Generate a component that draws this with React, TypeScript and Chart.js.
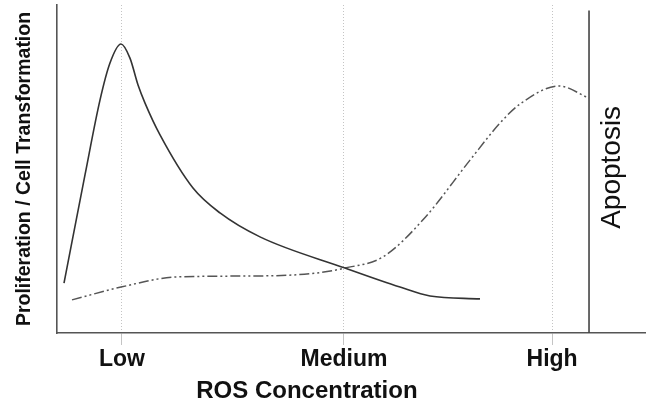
import { useEffect, useRef } from 'react';
import Chart from 'chart.js/auto';

// x axis: ROS concentration (0..100 arbitrary units), y axis: response (0..100)
const tickValues = [11.05, 48.8, 84.2];
const tickLabels = ['Low', 'Medium', 'High'];

const proliferationX = [1.19, 4.76, 7.31, 9.01, 10.88, 12.41, 13.78, 14.97, 17.52, 23.13, 27.72, 34.52, 48.98, 58.33, 63.44, 71.94];
const proliferationY = [15.2, 48.2, 71.0, 82.3, 88.1, 83.8, 75.6, 70.1, 60.4, 44.2, 36.6, 29.3, 19.8, 14.0, 11.3, 10.4];

const apoptosisCurveX = [2.55, 10.88, 20.41, 34.52, 44.22, 48.98, 55.44, 62.24, 70.24, 75.34, 78.74, 85.37, 90.48];
const apoptosisCurveY = [10.1, 14.0, 17.1, 17.4, 18.3, 19.8, 23.2, 34.5, 52.7, 64.0, 69.8, 75.3, 71.6];

const apoptosisThresholdX = 90.48;
const apoptosisThresholdY = [0, 98.3];

const xTitle = 'ROS Concentration';
const yTitle = 'Proliferation / Cell Transformation';
const thresholdLabel = 'Apoptosis';

const FONT = '"Liberation Sans", Arial, Helvetica, sans-serif';

const textPlugin = {
  id: 'extraTexts',
  afterDraw(chart: any) {
    const { ctx, chartArea, scales } = chart;
    ctx.save();
    ctx.fillStyle = '#111';
    ctx.textAlign = 'center';
    ctx.textBaseline = 'middle';
    ctx.font = `bold 24px ${FONT}`;
    const tx = chartArea.left + (chartArea.right - chartArea.left) * 0.425;
    ctx.fillText(xTitle, tx, chartArea.bottom + 58);
    const ax = scales.x.getPixelForValue(apoptosisThresholdX) + 23;
    const ay = chartArea.top + (chartArea.bottom - chartArea.top) * 0.495;
    ctx.translate(ax, ay);
    ctx.rotate(-Math.PI / 2);
    ctx.font = `28px ${FONT}`;
    ctx.fillText(thresholdLabel, 0, 0);
    ctx.restore();
  },
};

export default function App() {
  const ref = useRef<HTMLCanvasElement | null>(null);
  useEffect(() => {
    document.body.style.margin = '0';
    const canvas = ref.current!;
    const chart = new Chart(canvas, {
      type: 'line',
      data: {
        datasets: [
          {
            data: proliferationX.map((x, i) => ({ x, y: proliferationY[i] })),
            borderColor: '#333',
            borderWidth: 1.6,
            pointRadius: 0,
            cubicInterpolationMode: 'monotone',
            fill: false,
          },
          {
            data: apoptosisCurveX.map((x, i) => ({ x, y: apoptosisCurveY[i] })),
            borderColor: '#555',
            borderWidth: 1.5,
            borderDash: [10, 3, 2, 3, 2, 3],
            pointRadius: 0,
            cubicInterpolationMode: 'monotone',
            fill: false,
          },
          {
            data: apoptosisThresholdY.map((y) => ({ x: apoptosisThresholdX, y })),
            borderColor: '#444',
            borderWidth: 1.6,
            pointRadius: 0,
            tension: 0,
            fill: false,
          },
        ],
      },
      options: {
        animation: false,
        responsive: false,
        maintainAspectRatio: false,
        layout: { padding: { left: 0, top: 5, right: 4, bottom: 0 } },
        plugins: { legend: { display: false }, tooltip: { enabled: false } },
        scales: {
          x: {
            type: 'linear',
            min: 0,
            max: 100,
            afterBuildTicks: (scale: any) => {
              scale.ticks = tickValues.map((v) => ({ value: v }));
            },
            afterFit: (scale: any) => {
              scale.height = 73;
            },
            ticks: {
              autoSkip: false,
              maxRotation: 0,
              padding: 1,
              color: '#111',
              font: { family: FONT, size: 23, weight: 'bold' },
              callback: (_v: any, i: number) => tickLabels[i],
            },
            grid: { color: '#c4c4c4', lineWidth: 1, tickLength: 12, drawTicks: true },
            border: { display: true, color: '#555', width: 1.6, dash: [1, 2] },
          },
          y: {
            type: 'linear',
            min: 0,
            max: 100,
            afterFit: (scale: any) => {
              scale.width = 57;
            },
            ticks: { display: false },
            grid: { display: false },
            border: { display: true, color: '#555', width: 1.6 },
            title: {
              display: true,
              text: yTitle,
              color: '#111',
              font: { family: FONT, size: 19.5, weight: 'bold' },
              padding: { top: 13, bottom: 0 },
            },
          },
        },
      },
      plugins: [textPlugin],
    } as any);
    return () => chart.destroy();
  }, []);
  return <canvas ref={ref} width={649} height={406} style={{ display: 'block' }} />;
}
